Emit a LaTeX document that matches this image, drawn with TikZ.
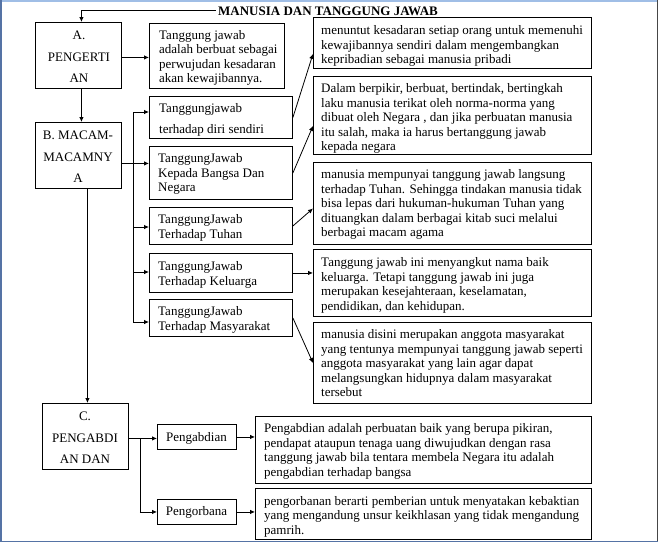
\documentclass[tikz,border=0pt]{standalone}
\usepackage{fontspec}
\setmainfont{Liberation Serif}
\usetikzlibrary{arrows.meta,calc}
\definecolor{frametop}{RGB}{160,190,230}
\definecolor{frameblue}{RGB}{85,115,165}
\definecolor{framegrey}{RGB}{70,70,70}
\tikzset{
  box/.style={draw, line width=0.9pt, inner sep=0pt, anchor=north west},
  txt/.style={anchor=base west, inner sep=0pt, align=left, font=\fontsize{13}{14.6}\selectfont},
  ctxt/.style={anchor=base, inner sep=0pt, align=center, font=\fontsize{13}{21.5}\selectfont},
  arr/.style={line width=0.8pt, -{Latex[length=5pt,width=4.5pt]}},
  ln/.style={line width=0.8pt},
}
\begin{document}
\begin{tikzpicture}[x=1pt,y=-1pt]
\useasboundingbox (0,0) rectangle (658,542);
% frame
\fill[frametop] (0,0) rectangle (658,1.5);
\fill[frameblue] (0,0) rectangle (2,542);
\fill[frameblue] (0,540.5) rectangle (658,542);
\fill[framegrey] (656.5,0) rectangle (658,540.5);

% title
\node[anchor=base, inner sep=2pt, font=\bfseries\fontsize{13}{14}\selectfont] (title) at (328,15) {MANUSIA DAN TANGGUNG JAWAB};

% boxes
\node[box, minimum width=86, minimum height=66] (A) at (35,22) {};
\node[box, minimum width=135, minimum height=65] (A1) at (149,23) {};
\node[box, minimum width=86, minimum height=66] (B) at (35,122) {};
\node[box, minimum width=143, minimum height=42] (B1) at (149,96) {};
\node[box, minimum width=143, minimum height=53] (B2) at (149,146) {};
\node[box, minimum width=143, minimum height=37] (B3) at (149,207) {};
\node[box, minimum width=143, minimum height=39] (B4) at (149,253) {};
\node[box, minimum width=143, minimum height=37] (B5) at (149,299) {};
\node[box, minimum width=86, minimum height=66] (C) at (42,403) {};
\node[box, minimum width=79, minimum height=25] (C1) at (157,424) {};
\node[box, minimum width=79, minimum height=25] (C2) at (157,499) {};
\node[box, minimum width=278, minimum height=51] (R1) at (313,17) {};
\node[box, minimum width=278, minimum height=78] (R2) at (313,76) {};
\node[box, minimum width=278, minimum height=82] (R3) at (313,162) {};
\node[box, minimum width=278, minimum height=67] (R4) at (313,249) {};
\node[box, minimum width=278, minimum height=81] (R5) at (313,322) {};
\node[box, minimum width=336, minimum height=67] (R6) at (255,416) {};
\node[box, minimum width=336, minimum height=51] (R7) at (255,488) {};

% texts (anchor = baseline of the last line)
\node[ctxt] (tA) at (79,82.5) {A.\\PENGERTI\\AN};
\node[ctxt] (tB) at (78,182.5) {B. MACAM-\\MACAMNY\\A};
\node[ctxt] (tC) at (85,463.5) {C.\\PENGABDI\\AN DAN};
\node[txt, font=\fontsize{13}{14.3}\selectfont] (tA1) at (159,82.5) {Tanggung jawab\\adalah berbuat sebagai\\perwujudan kesadaran\\akan kewajibannya.};
\node[txt, font=\fontsize{13}{21}\selectfont] (tB1) at (159,133.5) {Tanggungjawab\\terhadap diri sendiri};
\node[txt] (tB2) at (158,191.7) {TanggungJawab\\Kepada Bangsa Dan\\Negara};
\node[txt] (tB3) at (158,238) {TanggungJawab\\Terhadap Tuhan};
\node[txt] (tB4) at (158,285) {TanggungJawab\\Terhadap Keluarga};
\node[txt] (tB5) at (158,330) {TanggungJawab\\Terhadap Masyarakat};
\node[anchor=base, inner sep=0pt, font=\fontsize{13}{14}\selectfont] (tC1) at (196.5,441.5) {Pengabdian};
\node[anchor=base, inner sep=0pt, font=\fontsize{13}{14}\selectfont] (tC2) at (196.5,515.5) {Pengorbana};
\node[txt] (tR1) at (321,63.7) {menuntut kesadaran setiap orang untuk memenuhi\\kewajibannya sendiri dalam mengembangkan\\kepribadian sebagai manusia pribadi};
\node[txt] (tR2) at (321,150.9) {Dalam berpikir, berbuat, bertindak, bertingkah\\laku manusia terikat oleh norma-norma yang\\dibuat oleh Negara , dan jika perbuatan manusia\\itu salah, maka ia harus bertanggung jawab\\kepada negara};
\node[txt] (tR3) at (321,236.9) {manusia mempunyai tanggung jawab langsung\\terhadap Tuhan. Sehingga tindakan manusia tidak\\bisa lepas dari hukuman-hukuman Tuhan yang\\dituangkan dalam berbagai kitab suci melalui\\berbagai macam agama};
\node[txt] (tR4) at (321,310.3) {Tanggung jawab ini menyangkut nama baik\\keluarga. Tetapi tanggung jawab ini juga\\merupakan kesejahteraan, keselamatan,\\pendidikan, dan kehidupan.};
\node[txt] (tR5) at (321,396.9) {manusia disini merupakan anggota masyarakat\\yang tentunya mempunyai tanggung jawab seperti\\anggota masyarakat yang lain agar dapat\\melangsungkan hidupnya dalam masyarakat\\tersebut};
\node[txt] (tR6) at (264,476.3) {Pengabdian adalah perbuatan baik yang berupa pikiran,\\pendapat ataupun tenaga uang diwujudkan dengan rasa\\tanggung jawab bila tentara membela Negara itu adalah\\pengabdian terhadap bangsa};
\node[txt] (tR7) at (264,534.5) {pengorbanan berarti pemberian untuk menyatakan kebaktian\\yang mengandung unsur keikhlasan yang tidak mengandung\\pamrih.};

% connectors (note: xshift/yshift are in page direction; y axis is flipped)
\draw[arr] (title.west) -| ([xshift=3]A.north);
\draw[arr] ([yshift=-2]A.east) -- ([yshift=-2]A.east -| A1.west);
\draw[arr] ([xshift=3]A.south) -- ([xshift=3]B.north);
\draw[arr] ([yshift=-8]B.east) -- ([yshift=-8]B.east -| B2.west);
\coordinate (bustop) at (133,112);
\coordinate (busbot) at (133,322);
\draw[ln] (bustop) -- (busbot);
\draw[arr] (bustop) -- (bustop -| B1.west);
\draw[arr] (133,227) -- (B3.west |- 0,227);
\draw[arr] (133,272) -- (B4.west |- 0,272);
\draw[arr] (busbot) -- (busbot -| B5.west);
\draw[arr] ([xshift=2]C.north |- B.south) -- ([xshift=2]C.north);
\draw[arr] (B1.east) -- ([yshift=15]R1.south west);
\draw[arr] (B2.east) -- ([yshift=29]R2.south west);
\draw[arr] (B3.east) -- ([yshift=-5]R3.west);
\draw[arr] (B4.east) -- (B4.east -| R4.west);
\draw[arr] (B5.east) -- (R5.west);
\draw[arr] ([yshift=-2]C.east) -- ([yshift=-2]C.east -| C1.west);
\coordinate (csplit) at ($([yshift=-2]C.east)+(11,0)$);
\draw[ln] (csplit) -- (csplit |- C2.west);
\draw[arr] (csplit |- C2.west) -- (C2.west);
\draw[arr] (C1.east) -- (C1.east -| R6.west);
\draw[arr] (C2.east) -- (C2.east -| R7.west);
\end{tikzpicture}
\end{document}
